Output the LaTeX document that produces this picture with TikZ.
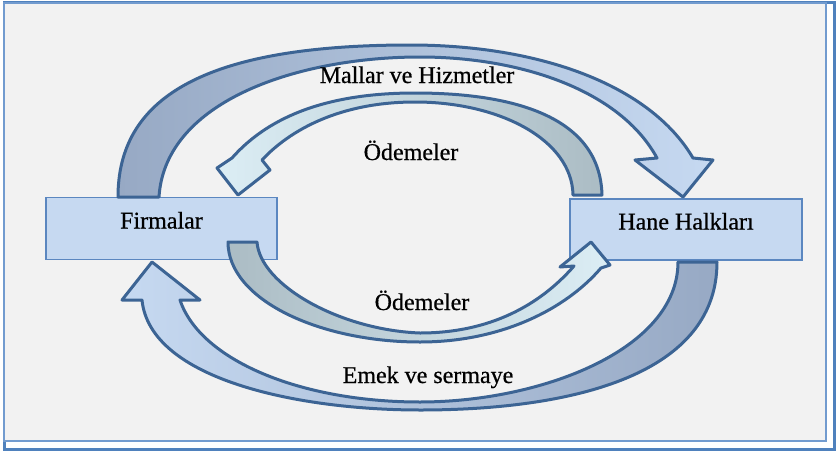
\documentclass[tikz,border=0pt]{standalone}
\usepackage{fontspec}
\setmainfont{Liberation Serif}
\newfontfamily\lblfont{Liberation Serif}[FakeBold=0.6]
\definecolor{framebg}{HTML}{F2F2F2}
\definecolor{frameout}{HTML}{4F81BD}
\definecolor{framein}{HTML}{729BCF}
\definecolor{boxfill}{HTML}{C6D9F1}
\definecolor{boxline}{HTML}{5B87C0}
\definecolor{arrline}{HTML}{3C6494}
\definecolor{goodsdark}{HTML}{97A9C4}
\definecolor{goodslight}{HTML}{C6D9F1}
\definecolor{paydark}{HTML}{ABBCC4}
\definecolor{paylight}{HTML}{DCEEF5}
\begin{document}
\begin{tikzpicture}[x=1pt,y=-1pt,
  agent/.style={draw=boxline, fill=boxfill, line width=1.3pt,
    minimum width=231pt, minimum height=62pt, inner sep=0pt,
    text height=8pt, text depth=8pt, font=\lblfont\fontsize{24}{28}\selectfont},
  lbl/.style={anchor=base, inner sep=0pt, font=\lblfont\fontsize{24}{28}\selectfont},
  flow/.style={draw=arrline, line width=3pt, line join=round}]
\useasboundingbox (0,0) rectangle (836,453);

% page frame: outer border and the grey panel
\path[draw=frameout, fill=white, line width=3pt] (4,2.5) rectangle (834.5,449.5);
\path[draw=framein, fill=framebg, line width=2pt] (4,2.5) rectangle (826,441);

% the two sectors
\node[agent] (firm) at (161.5,228.5) {Firmalar};
\node[agent, minimum width=232pt, minimum height=61pt] (home) at (686,229.5) {Hane Halkları};

% goods and services: firms -> households (outer, top)
\path[flow, left color=goodsdark, right color=goodslight]
  (118,197) .. controls (118,100) and (200,45) .. (410,45)
  .. controls (540,45) and (650,85) .. (693,158)
  -- (713,160) -- (683,197) -- (635,160) -- (657,158)
  .. controls (620,90) and (520,57) .. (420,57)
  .. controls (300,57) and (165,100) .. (159,197) -- cycle;

% payments: households -> firms (inner, top)
\path[flow, left color=paylight, right color=paydark]
  (602,195) .. controls (600,115) and (510,93) .. (415,93)
  .. controls (330,93) and (270,115) .. (232,158)
  -- (217,168) -- (238,195) -- (270,170) -- (262,160)
  .. controls (290,130) and (340,102) .. (415,102)
  .. controls (500,102) and (572,140) .. (573,195) -- cycle;

% payments: firms -> households (inner, bottom)
\path[flow, left color=paydark, right color=paylight]
  (228,242) .. controls (228,300) and (320,342) .. (420,342)
  .. controls (500,342) and (565,310) .. (601,268)
  -- (610,265) -- (591,242) -- (560,267) -- (574,266)
  .. controls (540,305) and (490,333) .. (420,333)
  .. controls (340,330) and (260,285) .. (257,242) -- cycle;

% labour and capital: households -> firms (outer, bottom)
\path[flow, left color=goodslight, right color=goodsdark]
  (717,262) .. controls (717,380) and (560,410) .. (420,410)
  .. controls (300,410) and (150,380) .. (142,300)
  -- (122,300) -- (152,262) -- (200,300) -- (180,300)
  .. controls (200,360) and (300,402) .. (420,402)
  .. controls (540,402) and (678,350) .. (678,262) -- cycle;

% flow labels
\node[lbl] (goods) at (417,83) {Mallar ve Hizmetler};
\node[lbl] (payTop) at (411,160) {Ödemeler};
\node[lbl] (payBot) at (422,310) {Ödemeler};
\node[lbl] (labour) at (428,383) {Emek ve sermaye};
\end{tikzpicture}
\end{document}
